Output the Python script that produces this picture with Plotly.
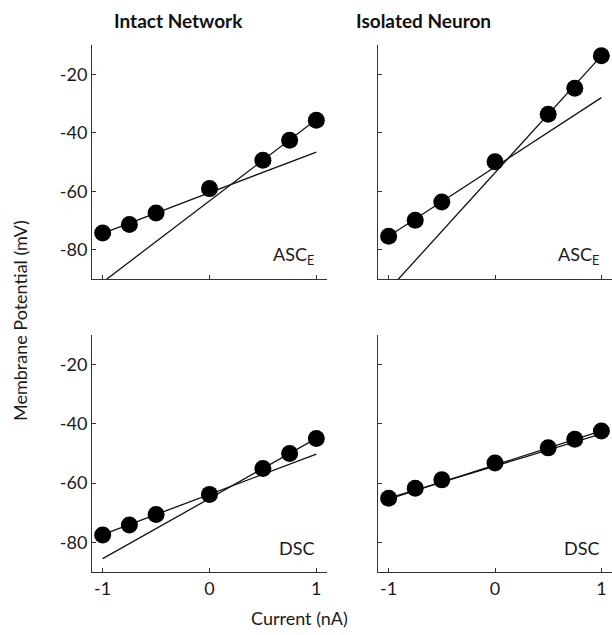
import plotly.graph_objects as go

# ---- data ----
current = [-1, -0.75, -0.5, 0, 0.5, 0.75, 1]
intact_asc = [-74.3, -71.4, -67.4, -59.1, -49.4, -42.6, -35.7]
isolated_asc = [-75.4, -69.9, -63.7, -49.9, -33.7, -24.8, -13.7]
intact_dsc = [-77.5, -74.1, -70.6, -63.8, -55.1, -50.0, -44.9]
isolated_dsc = [-65.1, -61.7, -58.9, -53.2, -48.1, -45.2, -42.4]

# straight fits (values at -1 nA and +1 nA): hyperpolarised-side fit, depolarised-side fit
fit_x = [-1, 1]
intact_asc_fit_hyp = [-74.4, -46.6]
intact_asc_fit_dep = [-91.1, -35.5]
isolated_asc_fit_hyp = [-75.4, -28.0]
isolated_asc_fit_dep = [-93.7, -13.7]
intact_dsc_fit_hyp = [-77.4, -50.2]
intact_dsc_fit_dep = [-85.5, -44.9]
isolated_dsc_fit_hyp = [-65.1, -43.4]
isolated_dsc_fit_dep = [-65.4, -42.4]

y_ticks = [-80, -60, -40, -20]
y_ticktext = ["-80", "-60", "-40", "-20"]
x_ticks = [-1, 0, 1]
x_ticktext = ["-1", "0", "1"]

col_titles = ["Intact Network", "Isolated Neuron"]
panel_labels = ["ASC<sub>E</sub>", "ASC<sub>E</sub>", "DSC", "DSC"]

FONT = "Lato"
W, H = 612, 635

fig = go.Figure()

panels = [
    (intact_asc, [intact_asc_fit_hyp, intact_asc_fit_dep]),
    (isolated_asc, [isolated_asc_fit_hyp, isolated_asc_fit_dep]),
    (intact_dsc, [intact_dsc_fit_hyp, intact_dsc_fit_dep]),
    (isolated_dsc, [isolated_dsc_fit_hyp, isolated_dsc_fit_dep]),
]

for i, (vals, fits) in enumerate(panels):
    xa = "x" if i == 0 else f"x{i+1}"
    ya = "y" if i == 0 else f"y{i+1}"
    for f in fits:
        fig.add_trace(go.Scatter(x=fit_x, y=f, mode="lines",
                                 line=dict(color="#111", width=1.3),
                                 xaxis=xa, yaxis=ya, showlegend=False,
                                 hoverinfo="skip"))
    fig.add_trace(go.Scatter(x=current, y=vals, mode="markers",
                             marker=dict(color="black", size=17),
                             xaxis=xa, yaxis=ya, showlegend=False,
                             cliponaxis=False))

xdom_left = [92 / W, 327 / W]
xdom_right = [378 / W, 1.0]
ydom_top = [1 - 279 / H, 1 - 45 / H]
ydom_bot = [1 - 572 / H, 1 - 335 / H]

axis_common = dict(showline=True, linecolor="#333", linewidth=1,
                   ticks="inside", ticklen=4, tickcolor="#333",
                   showgrid=False, zeroline=False,
                   tickfont=dict(family=FONT, size=18, color="#1a1a1a"))

layout_axes = {}
specs = [
    (xdom_left, ydom_top, False, True),
    (xdom_right, ydom_top, False, False),
    (xdom_left, ydom_bot, True, True),
    (xdom_right, ydom_bot, True, False),
]
for i, (xd, yd, showx, showy) in enumerate(specs):
    xn = "xaxis" if i == 0 else f"xaxis{i+1}"
    yn = "yaxis" if i == 0 else f"yaxis{i+1}"
    xref = "x" if i == 0 else f"x{i+1}"
    yref = "y" if i == 0 else f"y{i+1}"
    layout_axes[xn] = dict(axis_common, domain=xd, range=[-1.1, 1.1],
                           anchor=yref, tickvals=x_ticks, ticktext=x_ticktext,
                           showticklabels=showx)
    layout_axes[yn] = dict(axis_common, domain=yd, range=[-90, -10],
                           anchor=xref, tickvals=y_ticks, ticktext=y_ticktext,
                           showticklabels=showy)

annotations = []
for i, lab in enumerate(panel_labels):
    xref = "x" if i == 0 else f"x{i+1}"
    yref = "y" if i == 0 else f"y{i+1}"
    annotations.append(dict(x=1.0, y=-82, xref=xref, yref=yref, text=lab,
                            showarrow=False, xanchor="right", yanchor="middle",
                            font=dict(family=FONT, size=18, color="#1a1a1a")))

for txt, xc in zip(col_titles, [178, 423]):
    annotations.append(dict(x=xc / W, y=1 - 21 / H, xref="paper", yref="paper",
                            text="<b>" + txt + "</b>", showarrow=False,
                            xanchor="center", yanchor="middle",
                            font=dict(family=FONT, size=19, color="#111")))
annotations.append(dict(x=20 / W, y=1 - 321 / H, xref="paper", yref="paper",
                        text="Membrane Potential (mV)", textangle=-90,
                        showarrow=False, xanchor="center", yanchor="middle",
                        font=dict(family=FONT, size=18, color="#1a1a1a")))
annotations.append(dict(x=299 / W, y=1 - 618 / H, xref="paper", yref="paper",
                        text="Current (nA)", showarrow=False,
                        xanchor="center", yanchor="middle",
                        font=dict(family=FONT, size=18, color="#1a1a1a")))

fig.update_layout(width=W, height=H, margin=dict(l=0, r=0, t=0, b=0),
                  paper_bgcolor="white", plot_bgcolor="white",
                  annotations=annotations, **layout_axes)

fig.write_html("out.html")
